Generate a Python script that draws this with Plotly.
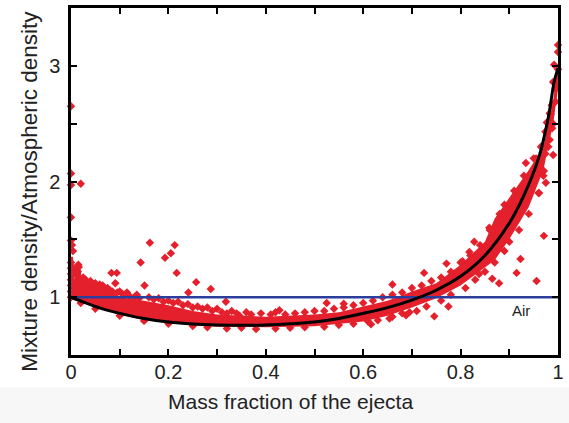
import plotly.graph_objects as go

# ---- data ----
curve_x = [0, 0.03, 0.06, 0.1, 0.15, 0.2, 0.25, 0.3, 0.35, 0.4, 0.45, 0.5, 0.55,
           0.6, 0.65, 0.7, 0.75, 0.8, 0.85, 0.9, 0.93, 0.96, 0.98, 0.992, 1.0]
curve_y = [1.0, 0.95, 0.905, 0.86, 0.815, 0.785, 0.768, 0.76, 0.757, 0.76, 0.77, 0.785, 0.815,
           0.86, 0.91, 0.975, 1.06, 1.18, 1.36, 1.64, 1.88, 2.2, 2.55, 2.86, 2.98]

air_x = [0, 1]
air_y = [1, 1]

band_upper_x = [0, 0.004, 0.008, 0.012, 0.018, 0.022, 0.055, 0.09, 0.1, 0.15, 0.2, 0.25, 0.3,
                0.4, 0.5, 0.55, 0.6, 0.65, 0.7, 0.75, 0.8, 0.85, 0.87, 0.9, 0.94, 0.97, 0.99, 1.0]
band_upper_y = [1.35, 1.35, 1.15, 1.3, 1.3, 1.15, 1.1, 1.03, 1.0, 0.97, 0.93, 0.88, 0.85,
                0.83, 0.85, 0.87, 0.92, 0.97, 1.05, 1.12, 1.28, 1.48, 1.68, 1.86, 2.1, 2.3, 2.7, 3.0]
band_lower_x = [1.0, 0.99, 0.97, 0.94, 0.9, 0.87, 0.8, 0.75, 0.7, 0.65, 0.6, 0.5, 0.4, 0.3,
                0.25, 0.2, 0.15, 0.1, 0.05, 0.02, 0]
band_lower_y = [2.8, 2.5, 2.1, 1.78, 1.5, 1.32, 1.1, 0.99, 0.91, 0.84, 0.79, 0.748, 0.74, 0.745,
                0.758, 0.778, 0.803, 0.848, 0.91, 0.96, 0.98]

pts_x = [
    # outliers near x = 0
    0.0, 0.0, 0.0, 0.02, 0.0, 0.0, 0.002, 0.004, 0.0, 0.0, 0.0, 0.0, 0.0, 0.0, 0.0, 0.014, 0.016,
    # scattered points left / middle
    0.162, 0.143, 0.151, 0.083, 0.094, 0.091, 0.193, 0.205, 0.213, 0.217, 0.257, 0.241, 0.287,
    0.318, 0.059, 0.32, 0.428, 0.346,
    # scattered points right
    0.725, 0.525, 0.56, 0.616, 0.654, 0.688, 0.695, 0.746, 0.66, 0.828, 0.818, 0.771, 0.923,
    0.915, 0.971, 0.956, 0.865, 0.879, 0.838, 0.804, 0.859, 0.934, 0.975, 0.961, 0.971, 0.775,
    # right edge
    1.0, 1.0, 0.992, 1.0, 0.99, 0.997, 0.987, 0.995, 0.983, 0.977, 0.988, 0.983, 0.974, 0.974,
    0.955, 0.962, 0.99,
    # upper edge texture
    0.005, 0.01, 0.015, 0.025, 0.03, 0.035, 0.04, 0.045, 0.05, 0.06, 0.065, 0.07, 0.075, 0.08,
    0.085, 0.095, 0.1, 0.105, 0.11, 0.115, 0.12, 0.13, 0.135, 0.14, 0.16, 0.17, 0.18, 0.19, 0.2,
    0.21, 0.22, 0.23, 0.24, 0.25, 0.26, 0.27, 0.28, 0.29, 0.3, 0.31, 0.33, 0.34, 0.36, 0.37,
    0.39, 0.41, 0.42, 0.44, 0.46, 0.48, 0.5, 0.52, 0.54, 0.56, 0.58, 0.6, 0.62, 0.64, 0.66,
    0.68, 0.7, 0.72, 0.74, 0.76, 0.78, 0.8, 0.82, 0.84, 0.86, 0.88, 0.89, 0.91, 0.93, 0.95,
    0.965, 0.985, 0.995,
    # lower edge texture
    0.02, 0.05, 0.1, 0.15, 0.2, 0.25, 0.28, 0.32, 0.35, 0.38, 0.42, 0.45, 0.48, 0.52, 0.55,
    0.58, 0.61, 0.63, 0.66, 0.68, 0.71, 0.73, 0.76, 0.78, 0.81, 0.83, 0.85, 0.87, 0.89, 0.9,
    0.92, 0.94, 0.96, 0.97, 0.98, 0.99,
]
pts_y = [
    2.65, 2.07, 1.97, 1.98, 1.69, 1.49, 1.45, 1.4, 1.3, 1.25, 1.2, 1.15, 1.1, 1.05, 1.0, 1.22, 1.26,
    1.47, 1.30, 1.10, 1.21, 1.21, 1.12, 1.34, 1.38, 1.45, 1.21, 1.13, 1.04, 1.07,
    0.96, 1.11, 0.86, 0.886, 0.84,
    1.21, 0.95, 0.943, 0.766, 0.815, 0.843, 0.87, 0.834, 1.11, 1.48, 1.39, 1.29, 1.33,
    1.21, 1.53, 1.14, 1.16, 1.12, 1.2, 1.31, 1.6, 2.16, 1.99, 1.9, 2.09, 0.92,
    3.18, 3.12, 3.01, 2.97, 2.86, 2.86, 2.66, 2.69, 2.59, 2.51, 2.46, 2.36, 2.43, 2.24,
    2.2, 2.2, 2.23,
    1.25, 1.2, 1.28, 1.17, 1.15, 1.12, 1.14, 1.1, 1.12, 1.08, 1.1, 1.07, 1.08, 1.06,
    1.05, 1.04, 1.05, 1.03, 1.02, 1.04, 1.01, 1.0, 1.02, 0.99, 1.0, 0.98, 0.99, 0.96, 0.97,
    0.95, 0.96, 0.93, 0.94, 0.91, 0.92, 0.9, 0.91, 0.88, 0.9, 0.87, 0.88, 0.86, 0.87, 0.85,
    0.86, 0.85, 0.87, 0.85, 0.86, 0.87, 0.88, 0.88, 0.9, 0.91, 0.93, 0.95, 0.97, 1.0, 1.02,
    1.04, 1.08, 1.1, 1.14, 1.17, 1.22, 1.3, 1.36, 1.45, 1.58, 1.72, 1.8, 1.92, 2.05, 2.2,
    2.3, 2.58, 2.8,
    0.95, 0.9, 0.84, 0.795, 0.77, 0.75, 0.74, 0.73, 0.735, 0.725, 0.73, 0.735, 0.74, 0.745, 0.76,
    0.77, 0.79, 0.8, 0.83, 0.86, 0.88, 0.92, 0.97, 1.02, 1.08, 1.15, 1.22, 1.3, 1.4, 1.48,
    1.58, 1.72, 1.9, 2.05, 2.3, 2.5,
]

x_tickvals = [0, 0.1, 0.2, 0.3, 0.4, 0.5, 0.6, 0.7, 0.8, 0.9, 1.0]
x_ticktext = ["0", "", "0.2", "", "0.4", "", "0.6", "", "0.8", "", "1"]
y_tickvals = [1, 1.5, 2, 2.5, 3]
y_ticktext = ["1", "", "2", "", "3"]

RED = "#e4202c"
FONT = "Liberation Sans, Arial, sans-serif"

fig = go.Figure()

fig.add_trace(go.Scatter(
    x=band_upper_x + band_lower_x, y=band_upper_y + band_lower_y,
    fill="toself", fillcolor=RED, line=dict(width=0, color=RED),
    mode="lines", hoverinfo="skip", showlegend=False))

fig.add_trace(go.Scatter(
    x=pts_x, y=pts_y, mode="markers", cliponaxis=False,
    marker=dict(symbol="diamond", size=6.5, color=RED, line=dict(width=0)),
    showlegend=False))

fig.add_trace(go.Scatter(
    x=air_x, y=air_y, mode="lines", line=dict(color="#2c3e9c", width=2.5),
    showlegend=False))

fig.add_trace(go.Scatter(
    x=curve_x, y=curve_y, mode="lines", line=dict(color="black", width=3, shape="spline", smoothing=0.8),
    showlegend=False))

axis_common = dict(
    showline=True, linecolor="black", linewidth=2.5, mirror="ticks",
    ticks="inside", ticklen=6, tickwidth=2, tickcolor="black",
    showgrid=False, zeroline=False,
    tickfont=dict(family=FONT, size=20, color="#222"),
)

fig.update_layout(
    width=569, height=423,
    margin=dict(l=71, r=10, t=5, b=68),
    paper_bgcolor="white", plot_bgcolor="white",
    xaxis=dict(range=[0, 1], tickvals=x_tickvals, ticktext=x_ticktext, ticklabelstandoff=-3,
               **axis_common),
    yaxis=dict(range=[0.5, 3.5], tickvals=y_tickvals, ticktext=y_ticktext, ticklabelstandoff=4,
               **axis_common),
    shapes=[dict(type="rect", xref="paper", yref="paper", x0=-0.2, x1=1.1, y0=-0.094, y1=-0.25,
                 fillcolor="#f7f7f7", line=dict(width=0), layer="below")],
    annotations=[
        dict(text="Mass fraction of the ejecta", xref="paper", yref="paper", x=0.451, y=-0.134,
             xanchor="center", yanchor="middle", showarrow=False,
             font=dict(family=FONT, size=21, color="#222")),
        dict(text="Mixture density/Atmospheric density", xref="paper", yref="paper", x=-0.086, y=0.471,
             xanchor="center", yanchor="middle", textangle=-90, showarrow=False,
             font=dict(family=FONT, size=22.5, color="#222")),
        dict(text="Air", x=0.924, y=0.886, xref="x", yref="y", showarrow=False,
             font=dict(family=FONT, size=15, color="#222")),
    ],
)

fig.write_html("out.html")
